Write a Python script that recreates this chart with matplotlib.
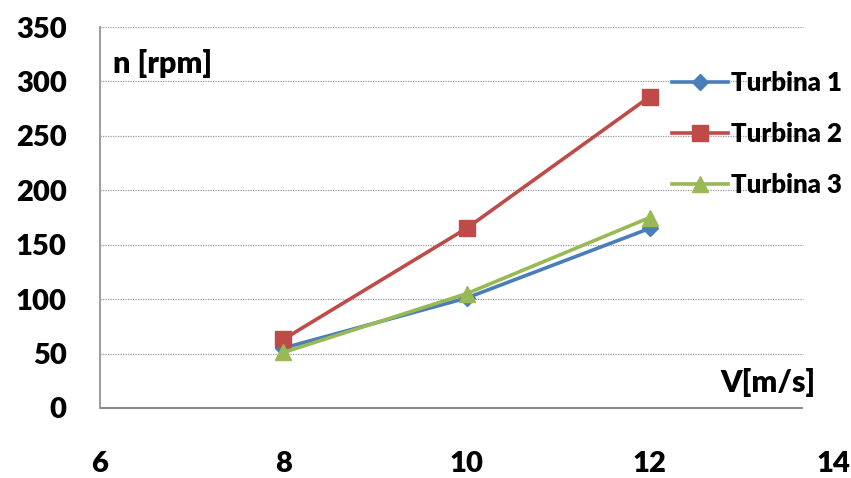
import numpy as np
from matplotlib import pyplot as plt

# wind speed [m/s] and rotor speed [rpm] of the three turbines
wind_speed = [8, 10, 12]
turbina_1 = [55, 101, 165]
turbina_2 = [63, 165, 286]
turbina_3 = [51, 105, 175]

series_names = ["Turbina 1", "Turbina 2", "Turbina 3"]
x_ticks = [6, 8, 10, 12, 14]
y_ticks = [0, 50, 100, 150, 200, 250, 300, 350]

WEIGHT = "heavy"
plt.rcParams["font.family"] = ["Lato", "DejaVu Sans"]
plt.rcParams["font.weight"] = WEIGHT

fig = plt.figure(figsize=(8.51, 4.78), dpi=100)
ax = fig.add_axes([100 / 851, 70 / 478, 733 / 851, 381 / 478])

# plot
ax.plot(wind_speed, turbina_1, color="#4A7EBB", lw=2.6, marker="D", ms=8,
        label=series_names[0], zorder=3)
ax.plot(wind_speed, turbina_2, color="#BE4B48", lw=2.6, marker="s", ms=12,
        label=series_names[1], zorder=3)
ax.plot(wind_speed, turbina_3, color="#98B954", lw=2.6, marker="^", ms=12,
        label=series_names[2], zorder=3)

# axis setting
ax.set_xlim(6, 14)
ax.set_ylim(0, 350)
ax.set_xticks(x_ticks)
ax.set_yticks(y_ticks)
ax.tick_params(axis="both", length=0, labelsize=21)
ax.tick_params(axis="x", pad=31)
ax.tick_params(axis="y", pad=24)
for lbl in ax.get_xticklabels() + ax.get_yticklabels():
    lbl.set_fontweight(WEIGHT)

for side in ["top", "right", "bottom"]:
    ax.spines[side].set_visible(False)
ax.spines["left"].set_color("#8c8c8c")
ax.spines["left"].set_linewidth(1.2)

# grid and bottom axis line stop short of the last tick
x_end = 13.67
ax.hlines(y_ticks[1:], 6, x_end, colors="#9a9a9a", linestyles=(0, (1, 1)),
          lw=0.9, zorder=1)
ax.hlines(0, 6, x_end, colors="#8c8c8c", lw=1.5, zorder=2, clip_on=False)

# axis titles inside the plot area
ax.text(0.018, 0.905, "n [rpm]", transform=ax.transAxes, fontsize=22,
        fontweight=WEIGHT, va="center", ha="left")
ax.text(0.976, 0.066, "V[m/s]", transform=ax.transAxes, fontsize=22,
        fontweight=WEIGHT, va="center", ha="right")

# legend
ax.legend(loc="upper left", bbox_to_anchor=(0.78, 0.885), frameon=False,
          prop={"weight": WEIGHT, "size": 18.5},
          handlelength=2.2, handletextpad=0.12, labelspacing=1.05,
          borderpad=0, borderaxespad=0)

plt.savefig("out.png", dpi=100)
